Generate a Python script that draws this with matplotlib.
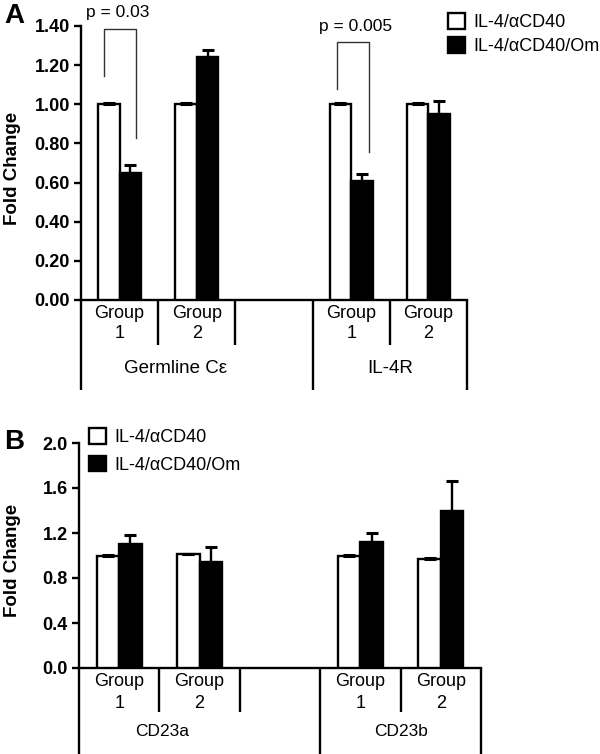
import matplotlib
matplotlib.use("Agg")
import matplotlib.pyplot as plt
import numpy as np

plt.rcParams['font.family'] = ['Liberation Sans', 'DejaVu Sans']

# ---------------- data ----------------
group_labels = ["Group\n1", "Group\n2", "Group\n1", "Group\n2"]
slot_pos = [0.5, 1.5, 3.5, 4.5]
series_names = ["IL-4/\u03b1CD40", "IL-4/\u03b1CD40/Om"]

genes_A = ["Germline C\u03b5", "IL-4R"]
ctrl_A = [1.00, 1.00, 1.00, 1.00]
ctrl_A_err = [0.005, 0.005, 0.005, 0.005]
om_A = [0.65, 1.24, 0.61, 0.95]
om_A_err = [0.04, 0.035, 0.035, 0.065]
pvals_A = ["p = 0.03", "p = 0.005"]

genes_B = ["CD23a", "CD23b"]
ctrl_B = [1.00, 1.01, 1.00, 0.97]
ctrl_B_err = [0.005, 0.005, 0.005, 0.008]
om_B = [1.10, 0.94, 1.12, 1.40]
om_B_err = [0.08, 0.14, 0.08, 0.26]

W, H = 600, 754
fig = plt.figure(figsize=(6, 7.54), dpi=100)


def frac_x(px):
    return px / W


def frac_y(py):
    return 1 - py / H


LW = 1.7


def draw_panel(ax, ctrl, ctrl_err, om, om_err, ymax, yticks, fmt, genes,
               gene_x, gene_fs, long_depth, short_depth, tick_fs, group_ls):
    bw = 0.28
    xs = np.array(slot_pos)
    ax.bar(xs - bw / 2, ctrl, width=bw, color='white', edgecolor='black',
           linewidth=LW, zorder=3, label=series_names[0])
    ax.bar(xs + bw / 2, om, width=bw, color='black', edgecolor='black',
           linewidth=LW, zorder=3, label=series_names[1])
    ax.errorbar(xs - bw / 2, ctrl, yerr=[np.zeros(4), ctrl_err], fmt='none',
                ecolor='black', elinewidth=LW, capsize=4, capthick=2.2, zorder=4)
    ax.errorbar(xs + bw / 2, om, yerr=[np.zeros(4), om_err], fmt='none',
                ecolor='black', elinewidth=LW, capsize=4, capthick=2.2, zorder=4)
    ax.set_xlim(0, 5)
    ax.set_ylim(0, ymax)
    ax.set_yticks(yticks)
    ax.set_yticklabels([fmt % v for v in yticks], fontweight='bold', fontsize=tick_fs)
    ax.set_xticks([])
    for s in ['top', 'right']:
        ax.spines[s].set_visible(False)
    ax.spines['left'].set_linewidth(LW)
    ax.spines['bottom'].set_linewidth(LW)
    ax.tick_params(axis='y', direction='out', length=5, width=LW, pad=3)
    ax.set_ylabel("Fold Change", fontweight='bold', fontsize=13.5)
    # category dividers below axis
    for x in [0, 3, 5]:
        ax.plot([x, x], [0, -long_depth], color='black', lw=LW, clip_on=False,
                solid_capstyle='butt')
    for x in [1, 2, 4]:
        ax.plot([x, x], [0, -short_depth], color='black', lw=LW, clip_on=False,
                solid_capstyle='butt')
    for x, lab in zip(slot_pos, group_labels):
        ax.text(x, -0.02 * ymax, lab, ha='center', va='top', fontsize=13,
                linespacing=group_ls)
    for x, g in zip(gene_x, genes):
        ax.text(x, -short_depth - 0.085 * ymax, g, ha='center', va='center',
                fontsize=gene_fs)


# ---------- Panel A ----------
axA = fig.add_axes([frac_x(81), frac_y(300), frac_x(467) - frac_x(81),
                    frac_y(26) - frac_y(300)])
draw_panel(axA, ctrl_A, ctrl_A_err, om_A, om_A_err, 1.4,
           [0, 0.2, 0.4, 0.6, 0.8, 1.0, 1.2, 1.4], "%.2f", genes_A,
           [1.22, 4.0], 13.5, 0.46, 0.23, 13, 1.22)
axA.yaxis.set_label_coords(-0.155, 0.48)

# significance brackets
brackets = [(0.30, 0.71, 1.385, 1.145, 0.828, 0.48, 1.47),
            (3.32, 3.73, 1.318, 1.078, 0.756, 3.56, 1.40)]
for (x1, x2, top, l1, l2, tx, ty), p in zip(brackets, pvals_A):
    axA.plot([x1, x1, x2, x2], [l1, top, top, l2], color='#333333', lw=1.0,
             clip_on=False, zorder=5)
    axA.text(tx, ty, p, ha='center', va='center', fontsize=12.5, clip_on=False)

legA = axA.legend(loc='upper left', bbox_to_anchor=(frac_x(448), frac_y(13)),
                  bbox_transform=fig.transFigure, frameon=False, fontsize=13,
                  handlelength=0.95, handleheight=0.95, handletextpad=0.45,
                  labelspacing=0.35, borderpad=0, borderaxespad=0)
fig.text(frac_x(4), frac_y(3), "A", fontsize=20, fontweight='bold', va='top', ha='left')

# ---------- Panel B ----------
axB = fig.add_axes([frac_x(79), frac_y(668), frac_x(481) - frac_x(79),
                    frac_y(443) - frac_y(668)])
draw_panel(axB, ctrl_B, ctrl_B_err, om_B, om_B_err, 2.0,
           [0, 0.4, 0.8, 1.2, 1.6, 2.0], "%.1f", genes_B,
           [1.03, 4.0], 12.5, 0.8, 0.39, 13, 1.45)
axB.yaxis.set_label_coords(-0.145, 0.48)
legB = axB.legend(loc='upper left', bbox_to_anchor=(frac_x(89), frac_y(428)),
                  bbox_transform=fig.transFigure, frameon=False, fontsize=13,
                  handlelength=0.95, handleheight=0.95, handletextpad=0.45,
                  labelspacing=0.55, borderpad=0, borderaxespad=0)
fig.text(frac_x(4), frac_y(429), "B", fontsize=20, fontweight='bold', va='top', ha='left')

fig.savefig("out.png", dpi=100)
